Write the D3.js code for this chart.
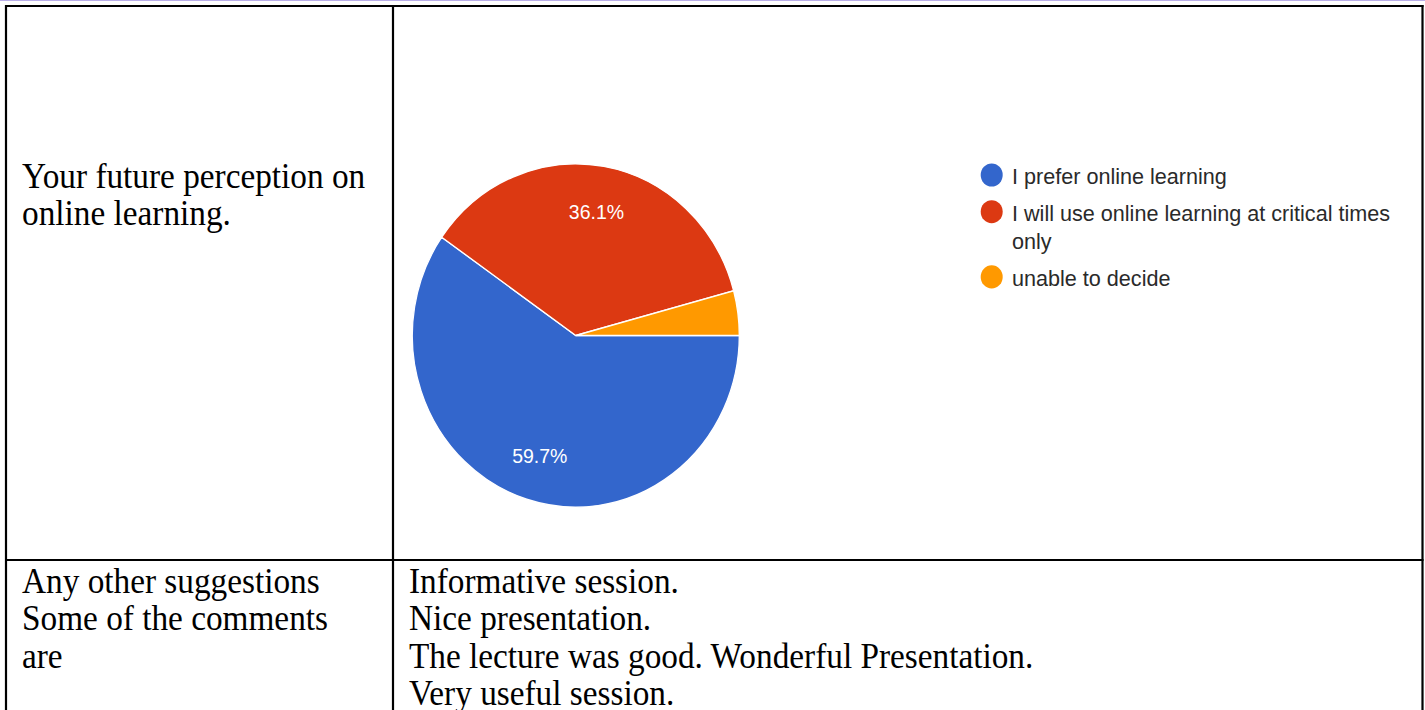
<!DOCTYPE html>
<html>
<head>
<meta charset="utf-8">
<script src="https://cdn.jsdelivr.net/npm/d3@7"></script>
<style>
  body { margin: 0; background: #fff; }
  svg { display: block; }
</style>
</head>
<body>
<div id="chart"></div>
<script>
// answers of the survey (percent)
var categories = ["I prefer online learning",
                  "I will use online learning at critical times only",
                  "unable to decide"];
var values = [59.7, 36.1, 4.2];
var colors = ["#3366cc", "#dc3912", "#ff9900"];

// text of the table around the chart
var questionLines = ["Your future perception on", "online learning."];
var suggestLines = ["Any other suggestions", "Some of the comments", "are"];
var commentLines = ["Informative session.", "Nice presentation.",
                    "The lecture was good. Wonderful Presentation.", "Very useful session."];

var width = 1425, height = 710;

var svg = d3.select("#chart").append("svg")
    .attr("width", width)
    .attr("height", height);

// thin purple line at the very top
svg.append("line")
    .attr("x1", 0).attr("x2", width)
    .attr("y1", 0.5).attr("y2", 0.5)
    .style("stroke", "#b9aee8")
    .style("stroke-width", 1);

// table grid
var grid = svg.append("g")
    .style("stroke", "#000")
    .style("stroke-width", 2.2)
    .style("fill", "none");

grid.append("line").attr("x1", 5).attr("x2", 1423.5).attr("y1", 6).attr("y2", 6);
grid.append("line").attr("x1", 6).attr("x2", 6).attr("y1", 5).attr("y2", height);
grid.append("line").attr("x1", 393).attr("x2", 393).attr("y1", 5).attr("y2", height);
grid.append("line").attr("x1", 1422.5).attr("x2", 1422.5).attr("y1", 5).attr("y2", height);
grid.append("line").attr("x1", 5).attr("x2", 1423.5).attr("y1", 560).attr("y2", 560);

// table text (slightly stretched up, like the scanned page)
function textBlock(lines, x, y0) {
  svg.append("g").selectAll("text")
      .data(lines)
      .enter().append("text")
      .attr("transform", function(d, i){
        return "translate(" + x + "," + (y0 + i * 37.3) + ") scale(1,1.07)";
      })
      .style("font-family", "'Liberation Serif', 'Times New Roman', serif")
      .style("font-size", "33.3px")
      .style("fill", "#000")
      .text(function(d){ return d; });
}
textBlock(questionLines, 22, 188);
textBlock(suggestLines, 22, 593);
textBlock(commentLines, 409, 593);

// pie
var data = categories.map(function(c, i){
  return {label: c, value: values[i], color: colors[i]};
});

var pie = d3.pie()
    .sort(null)
    .startAngle(Math.PI / 2)
    .endAngle(Math.PI / 2 + 2 * Math.PI)
    .value(function(d){ return d.value; });

var radius = 163.5;
var arc = d3.arc().innerRadius(0).outerRadius(radius);
var labelArc = d3.arc().innerRadius(120).outerRadius(120);

var pieG = svg.append("g")
    .attr("transform", "translate(575.8,335.5) scale(1,1.05)");

var slices = pieG.selectAll("g.slice")
    .data(pie(data))
    .enter().append("g")
    .attr("class", "slice");

slices.append("path")
    .attr("d", arc)
    .style("fill", function(d){ return d.data.color; })
    .style("stroke", "#fff")
    .style("stroke-width", 1.3);

slices.filter(function(d){ return d.data.value > 5; })
    .append("text")
    .attr("transform", function(d){ return "translate(" + labelArc.centroid(d) + ")"; })
    .attr("dy", "0.37em")
    .attr("text-anchor", "middle")
    .style("font-family", "'Liberation Sans', Arial, sans-serif")
    .style("font-size", "19.5px")
    .style("fill", "#fff")
    .text(function(d){ return d.data.value.toFixed(1) + "%"; });

// legend, wrapped like the original
var legendX = 991.7, textX = 1012, maxW = 395;
var legend = svg.append("g")
    .style("font-family", "'Liberation Sans', Arial, sans-serif")
    .style("font-size", "21.6px")
    .style("fill", "#2a2a2a");

var cy = 175;
data.forEach(function(d){
  var item = legend.append("g");
  item.append("circle")
      .attr("cx", legendX)
      .attr("cy", cy)
      .attr("r", 11)
      .attr("transform", "translate(0," + cy + ") scale(1,1.05) translate(0," + (-cy) + ")")
      .style("fill", d.color);

  var t = item.append("text").attr("x", textX).attr("y", cy + 9);
  var words = d.label.split(" "), line = [], lineNo = 0;
  var tspan = t.append("tspan").attr("x", textX).attr("dy", 0);
  words.forEach(function(w){
    line.push(w);
    tspan.text(line.join(" "));
    if (tspan.node().getComputedTextLength() > maxW && line.length > 1) {
      line.pop();
      tspan.text(line.join(" "));
      line = [w];
      lineNo++;
      tspan = t.append("tspan").attr("x", textX).attr("dy", 28.5).text(w);
    }
  });
  cy += 36.7 + lineNo * 28.5;
});
</script>
</body>
</html>
